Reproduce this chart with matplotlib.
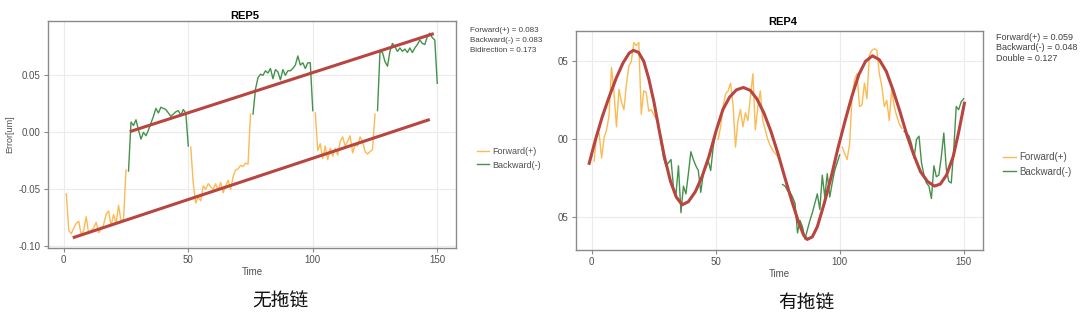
import matplotlib
matplotlib.use("Agg")
import matplotlib.pyplot as plt
import numpy as np

plt.rcParams['font.family'] = ['Liberation Sans', 'DejaVu Sans']

# ---------------- data: REP5 (无拖链) ----------------
rep5_time = list(range(0, 151))
rep5_fwd_seg1 = [-0.054, -0.086, -0.089, -0.084, -0.080, -0.078, -0.090, -0.086, -0.074, -0.089,
                 -0.086, -0.084, -0.079, -0.088, -0.085, -0.081, -0.072, -0.069, -0.082, -0.072,
                 -0.080, -0.064, -0.078, -0.076, -0.033]                       # t = 1..25
rep5_fwd_seg2 = [-0.013, -0.045, -0.062, -0.057, -0.060, -0.047, -0.050, -0.045, -0.048, -0.050,
                 -0.045, -0.051, -0.044, -0.053, -0.047, -0.042, -0.050, -0.039, -0.033, -0.032,
                 -0.029, -0.030, -0.027, -0.028, 0.016]                        # t = 51..75
rep5_fwd_seg3 = [0.017, -0.016, -0.010, -0.023, -0.012, -0.024, -0.014, -0.021, -0.014, -0.020,
                 -0.008, -0.004, -0.012, -0.008, -0.003, -0.018, -0.011, -0.012, -0.004, -0.008,
                 -0.017, -0.019, -0.017, -0.015, 0.016]                        # t = 101..125
rep5_bwd_seg1 = [-0.034, 0.009, 0.006, 0.011, 0.002, -0.006, 0.000, -0.003, 0.002, 0.008,
                 0.014, 0.021, 0.017, 0.022, 0.021, 0.020, 0.017, 0.014, 0.016, 0.018,
                 0.019, 0.015, 0.020, 0.017, -0.012]                           # t = 26..50
rep5_bwd_seg2 = [0.016, 0.038, 0.048, 0.051, 0.050, 0.054, 0.052, 0.056, 0.047, 0.055,
                 0.053, 0.046, 0.055, 0.050, 0.054, 0.054, 0.056, 0.059, 0.067, 0.059,
                 0.061, 0.056, 0.061, 0.061, 0.019]                            # t = 76..100
rep5_bwd_seg3 = [0.019, 0.071, 0.070, 0.062, 0.058, 0.071, 0.078, 0.075, 0.071, 0.074,
                 0.071, 0.073, 0.070, 0.074, 0.070, 0.074, 0.077, 0.081, 0.078, 0.077,
                 0.084, 0.087, 0.083, 0.081, 0.043]                            # t = 126..150
rep5_fit_upper_t = [26.5, 148.6]
rep5_fit_upper_v = [0.0006, 0.0866]
rep5_fit_lower_t = [3.6, 147.0]
rep5_fit_lower_v = [-0.0925, 0.0113]

# ---------------- data: REP4 (有拖链) ----------------
rep4_time = list(range(0, 151))
rep4_fwd_seg1 = [-0.014, 0.003, 0.004, -0.012, 0.001, 0.006, 0.015, 0.046, 0.030, 0.008,
                 0.032, 0.024, 0.019, 0.035, 0.047, 0.050, 0.062, 0.060, 0.062, 0.016,
                 0.031, 0.030, 0.018, 0.019, 0.016, 0.013, 0.010]              # t = 1..27
rep4_bwd_seg1 = [-0.002, -0.012, -0.017, -0.015, -0.013, -0.031, -0.035, -0.017, -0.047, -0.030,
                 -0.035, -0.022, -0.008, -0.013, -0.017, -0.020, -0.034, -0.022, -0.018, -0.014,
                 -0.020, -0.005, 0.004]                                        # t = 28..50
rep4_fwd_seg2 = [0.000, 0.008, 0.021, 0.029, 0.031, 0.036, 0.022, -0.005, 0.012, 0.019,
                 0.008, 0.017, 0.012, 0.027, 0.042, 0.006, 0.021, 0.031, 0.012, 0.006,
                 0.000, -0.004, -0.007, -0.009, -0.011, -0.015]                # t = 51..76
rep4_bwd_seg2 = [-0.029, -0.030, -0.033, -0.034, -0.037, -0.041, -0.060, -0.052, -0.056, -0.064,
                 -0.058, -0.052, -0.047, -0.041, -0.035, -0.045, -0.023, -0.037, -0.022, -0.037,
                 -0.028, -0.020, -0.015, -0.010]                               # t = 77..100
rep4_fwd_seg3 = [-0.005, -0.009, -0.013, -0.003, 0.027, 0.038, 0.042, 0.021, 0.022, 0.036,
                 0.026, 0.054, 0.057, 0.058, 0.057, 0.042, 0.034, 0.021, 0.025, 0.012,
                 0.032, 0.021, 0.015, 0.010, 0.007]                            # t = 101..125
rep4_bwd_seg3 = [0.005, 0.004, 0.002, -0.003, -0.012, 0.000, 0.002, -0.015, -0.023, -0.028,
                 -0.030, -0.038, -0.017, -0.024, -0.023, -0.011, 0.004, -0.019, -0.027, -0.028,
                 -0.007, 0.021, 0.019, 0.024, 0.026]                           # t = 126..150
rep4_fit_t = [-1.0, 1.5, 4.3, 7.1, 9.9, 12.6, 15.1, 16.8, 18.9, 21.0, 23.0, 25.1, 27.2, 29.3,
              31.8, 34.1, 36.5, 39.0, 41.8, 44.5, 47.3, 50.1, 52.9, 55.6, 58.4, 61.2, 64.0,
              66.7, 69.5, 72.3, 75.1, 77.8, 80.6, 83.4, 85.5, 86.9, 89.0, 91.0, 93.8, 96.6,
              99.3, 102.1, 104.9, 107.7, 110.4, 113.2, 116.0, 118.8, 121.5, 124.3, 127.1,
              129.9, 132.6, 135.4, 138.2, 140.6, 143.1, 145.8, 147.9, 150.3]
rep4_fit_v = [-0.0154, -0.0004, 0.0146, 0.0274, 0.0392, 0.0488, 0.0552, 0.0570, 0.0557, 0.0500,
              0.0390, 0.0240, 0.0060, -0.0110, -0.0270, -0.0370, -0.0420, -0.0400, -0.0336,
              -0.0240, -0.0110, 0.0050, 0.0190, 0.0270, 0.0317, 0.0332, 0.0313, 0.0257, 0.0167,
              0.0050, -0.0090, -0.0240, -0.0390, -0.0530, -0.0615, -0.0642, -0.0625, -0.0560,
              -0.0410, -0.0240, -0.0058, 0.0113, 0.0274, 0.0413, 0.0499, 0.0535, 0.0510, 0.0435,
              0.0317, 0.0178, 0.0028, -0.0100, -0.0208, -0.0270, -0.0300, -0.0287, -0.0229,
              -0.0110, 0.0039, 0.0231]

x_ticks = [0, 50, 100, 150]
rep5_y_ticks = [0.05, 0.00, -0.05, -0.10]
rep5_y_ticklabels = ['0.05', '0.00', '-0.05', '-0.10']
rep4_y_ticks = [0.05, 0.00, -0.05]
rep4_y_ticklabels = ['05', '00', '05']

rep5_stats = ['Forward(+) = 0.083', 'Backward(-) = 0.083', 'Bidirection = 0.173']
rep4_stats = ['Forward(+) = 0.059', 'Backward(-) = 0.048', 'Double = 0.127']
legend_labels = ['Forward(+)', 'Backward(-)']

# ---------------- styling ----------------
C_FWD = '#FCBA52'
C_BWD = '#44924A'
C_FIT = '#B8453F'
C_SPINE = '#8a8a8a'
C_TEXT = '#404040'
W, H = 1080, 322

fig = plt.figure(figsize=(W / 100, H / 100), dpi=100)
fig.patch.set_facecolor('white')


def ax_rect(x0, x1, y0, y1):
    return [x0 / W, 1 - y1 / H, (x1 - x0) / W, (y1 - y0) / H]


def style_axes(ax, yticks, yticklabels, xlim, ylim):
    ax.set_xlim(*xlim)
    ax.set_ylim(*ylim)
    ax.set_xticks(x_ticks)
    ax.set_yticks(yticks)
    ax.set_yticklabels(yticklabels)
    ax.grid(True, color='#ebebeb', lw=0.8)
    ax.set_axisbelow(True)
    for s in ax.spines.values():
        s.set_color(C_SPINE)
        s.set_linewidth(1.0)
    ax.tick_params(axis='both', colors=C_SPINE, labelcolor='#505050', labelsize=7,
                   length=3, width=0.8, pad=2)


def seg(time, start, values):
    return time[start:start + len(values)], values


def add_legend(ax, x, y, fs):
    from matplotlib.lines import Line2D
    h = [Line2D([], [], color=C_FWD, lw=1.0), Line2D([], [], color=C_BWD, lw=1.0)]
    leg = ax.legend(h, legend_labels, loc='upper left', bbox_to_anchor=(x / W, 1 - y / H),
                    bbox_transform=fig.transFigure, frameon=False, fontsize=fs,
                    handlelength=1.3, handletextpad=0.4, labelspacing=0.5, borderpad=0,
                    borderaxespad=0)
    for t in leg.get_texts():
        t.set_color('#505050')


# ---------------- left panel: REP5 ----------------
ax1 = fig.add_axes(ax_rect(47.6, 456.2, 21.4, 247.7))
style_axes(ax1, rep5_y_ticks, rep5_y_ticklabels, (-6.5, 157.6), (-0.1012, 0.0973))
for start, vals in [(1, rep5_fwd_seg1), (51, rep5_fwd_seg2), (101, rep5_fwd_seg3)]:
    ax1.plot(*seg(rep5_time, start, vals), color=C_FWD, lw=1.0)
for start, vals in [(26, rep5_bwd_seg1), (76, rep5_bwd_seg2), (126, rep5_bwd_seg3)]:
    ax1.plot(*seg(rep5_time, start, vals), color=C_BWD, lw=1.0)
ax1.plot(rep5_fit_upper_t, rep5_fit_upper_v, color=C_FIT, lw=2.2, solid_capstyle='butt')
ax1.plot(rep5_fit_lower_t, rep5_fit_lower_v, color=C_FIT, lw=2.2, solid_capstyle='butt')
ax1.set_xlabel('Time', fontsize=7, color='#505050', labelpad=2)
ax1.set_ylabel('Error[um]', fontsize=6.5, color='#505050')
ax1.yaxis.set_label_coords(-0.081, 0.5)
add_legend(ax1, 477, 147, 6.5)

# ---------------- right panel: REP4 ----------------
ax2 = fig.add_axes(ax_rect(575.8, 982.5, 31.3, 249.6))
style_axes(ax2, rep4_y_ticks, rep4_y_ticklabels, (-6.4, 157.6), (-0.0707, 0.0692))
for start, vals in [(1, rep4_fwd_seg1), (51, rep4_fwd_seg2), (101, rep4_fwd_seg3)]:
    ax2.plot(*seg(rep4_time, start, vals), color=C_FWD, lw=1.0)
for start, vals in [(28, rep4_bwd_seg1), (77, rep4_bwd_seg2), (126, rep4_bwd_seg3)]:
    ax2.plot(*seg(rep4_time, start, vals), color=C_BWD, lw=1.0)
ax2.plot(rep4_fit_t, rep4_fit_v, color=C_FIT, lw=2.2)
ax2.set_xlabel('Time', fontsize=7, color='#505050', labelpad=2)
add_legend(ax2, 1003, 152, 7)

# ---------------- titles / annotations ----------------
fig.text(245 / W, 1 - 16 / H, 'REP5', ha='center', va='center', fontsize=8,
         fontweight='bold', color='black')
fig.text(783 / W, 1 - 22 / H, 'REP4', ha='center', va='center', fontsize=8,
         fontweight='bold', color='black')

for i, s in enumerate(rep5_stats):
    fig.text(470 / W, 1 - (30.4 + 10.3 * i) / H, s, ha='left', va='center',
             fontsize=5.8, color=C_TEXT)
for i, s in enumerate(rep4_stats):
    fig.text(996 / W, 1 - (37.2 + 10.6 * i) / H, s, ha='left', va='center',
             fontsize=6.5, color=C_TEXT)

fig.text(280 / W, 1 - 301 / H, '无拖链', ha='center', va='center', fontsize=13.5,
         family=['Noto Sans CJK SC', 'DejaVu Sans'], color='#111111')
fig.text(806 / W, 1 - 303 / H, '有拖链', ha='center', va='center', fontsize=13.5,
         family=['Noto Sans CJK SC', 'DejaVu Sans'], color='#111111')

fig.savefig('out.png', dpi=100, facecolor='white')
